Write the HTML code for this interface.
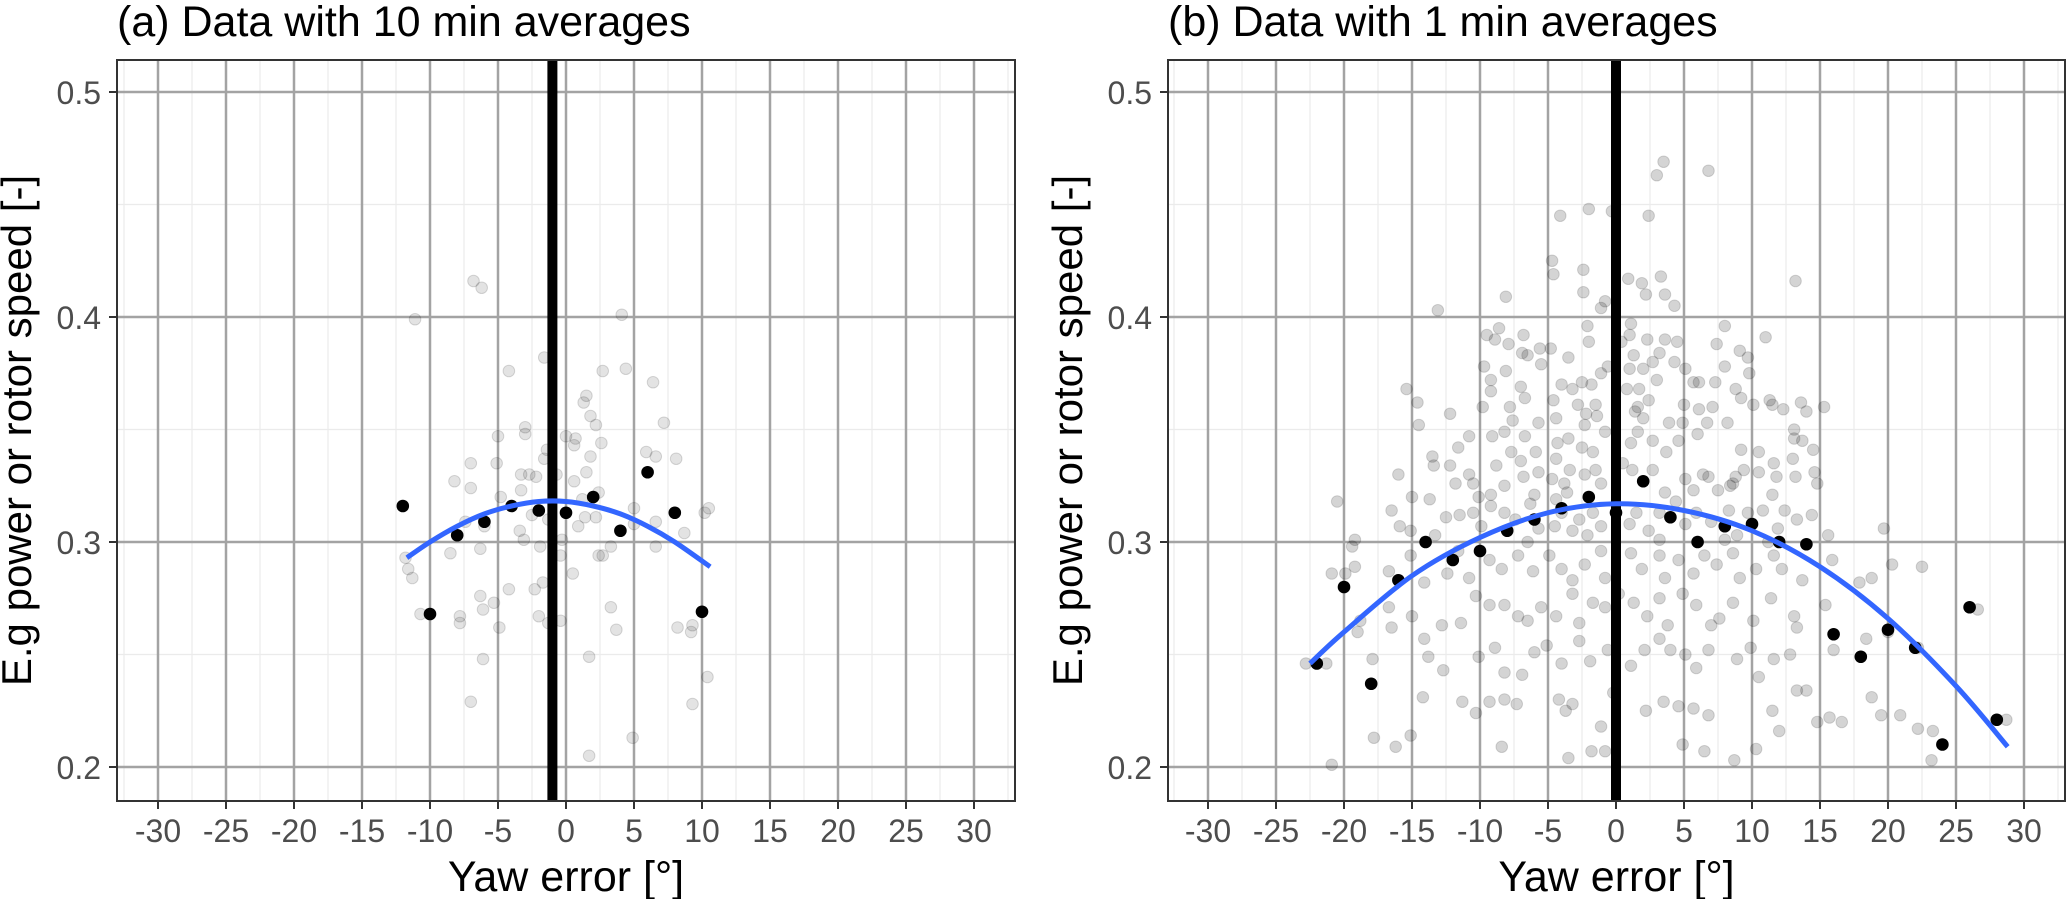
<!DOCTYPE html>
<html><head><meta charset="utf-8"><style>
html,body{margin:0;padding:0;background:#fff;}
svg{display:block;font-family:"Liberation Sans",Arial,sans-serif;}
</style></head><body>
<svg id="chart" width="2067" height="899" viewBox="0 0 2067 899" xmlns="http://www.w3.org/2000/svg"></svg>
<script>
// ---------- data ----------
const xTicks = [-30,-25,-20,-15,-10,-5,0,5,10,15,20,25,30];
const xTickLabels = ["-30","-25","-20","-15","-10","-5","0","5","10","15","20","25","30"];
const yTicks = [0.2,0.3,0.4,0.5];
const yTickLabels = ["0.2","0.3","0.4","0.5"];
const xMinor = [-32.5,-27.5,-22.5,-17.5,-12.5,-7.5,-2.5,2.5,7.5,12.5,17.5,22.5,27.5,32.5];
const yMinor = [0.25,0.35,0.45];

const aRawX = [-6.8,-6.2,-11.1,4.1,-1.6,-4.2,2.7,4.4,6.4,1.5,1.3,1.8,2.2,7.2,-3.0,-3.0,-5.0,0,0.7,2.6,-1.4,0.6,5.9,6.6,1.8,8.1,-1.6,-7.0,-5.1,-3.3,-2.7,-2.2,-0.7,1.5,-8.2,0.6,-7.0,-3.3,-4.8,2.4,1.2,5.0,10.5,10.2,-2.5,1.4,2.2,-7.4,-1.3,6.6,5.0,-6.0,0.9,-3.4,8.7,-3.1,-0.3,-1.9,-6.3,6.6,3.3,-8.5,-0.4,2.4,2.7,-11.8,-11.6,-11.3,0.5,-1.7,-4.2,-2.3,-6.3,-5.3,-6.1,3.3,-10.7,-7.8,-7.8,-2.0,-1.3,-0.4,-4.9,3.7,8.2,9.3,9.2,-6.1,1.7,10.4,-7.0,9.3,4.9,1.7];
const aRawY = [0.416,0.413,0.399,0.401,0.382,0.376,0.376,0.377,0.371,0.365,0.362,0.356,0.352,0.353,0.351,0.348,0.347,0.347,0.346,0.344,0.341,0.343,0.340,0.338,0.338,0.337,0.337,0.335,0.335,0.330,0.330,0.329,0.330,0.331,0.327,0.327,0.324,0.323,0.320,0.322,0.319,0.315,0.315,0.313,0.312,0.311,0.311,0.309,0.310,0.309,0.308,0.307,0.307,0.305,0.304,0.301,0.301,0.298,0.297,0.298,0.298,0.295,0.294,0.294,0.294,0.293,0.288,0.284,0.286,0.282,0.279,0.279,0.276,0.273,0.270,0.271,0.268,0.267,0.264,0.267,0.264,0.265,0.262,0.261,0.262,0.263,0.260,0.248,0.249,0.240,0.229,0.228,0.213,0.205];
const aBinX = [-12,-10,-8,-6,-4,-2,0,2,4,6,8,10];
const aBinY = [0.316,0.268,0.303,0.309,0.316,0.314,0.313,0.320,0.305,0.331,0.313,0.269];
const aFitX = [-11.7,-10,-8,-6,-4,-2,0,2,4,6,8,10.6];
const aFitY = [0.293,0.300,0.307,0.3125,0.316,0.318,0.318,0.316,0.3125,0.307,0.300,0.289];
const aVLine = [-1];

const bRawX = [3.5,3.0,6.8,-4.1,-2.0,-0.3,2.4,-4.7,-4.6,-2.4,-2.4,0.9,1.9,3.3,2.2,3.6,4.3,13.2,-8.1,-13.1,-1.1,-0.8,
-9.5,-8.6,-8.9,-7.9,-6.8,-6.9,-5.6,-4.8,-2.1,-2.0,1.1,1.0,2.3,3.6,4.5,3.2,4.3,8.0,7.4,11.0,9.1,9.7,-3.5,-6.5,1.3,2.7,0.4,
-9.7,-8.1,-5.5,-9.2,-7.0,-9.2,-6.7,-9.8,-7.8,-4.6,-4.0,-3.2,-2.5,-1.8,-1.1,-0.6,-2.8,-1.5,0.8,1.7,1.0,2.0,3.0,1.6,2.4,5.1,5.7,6.1,7.3,8.0,8.8,9.2,9.8,5.0,6.1,7.1,11.3,11.5,13.6,12.3,14.0,15.3,10.1,-15.4,-14.6,-14.5,-12.2,
-10.8,-11.6,-13.5,-9.1,-8.2,-7.6,-6.7,-5.7,-4.4,-3.5,-4.3,-2.2,-2.3,-1.4,-0.8,-2.5,-1.7,1.4,2.0,1.6,1.1,2.7,3.9,4.9,4.6,6.0,6.7,8.2,9.2,10.5,13.1,13.1,13.7,14.5,13.0,3.7,-7.7,-5.9,-4.4,
-16.0,-15.0,-13.4,-12.2,-11.8,-10.8,-10.5,-8.8,-8.2,-7.0,-6.8,-5.7,-6.0,-4.7,-3.8,-3.4,-2.3,-1.5,-1.1,-3.6,0.5,1.2,2.7,3.6,5.1,6.4,6.8,5.7,7.5,8.6,9.4,10.5,11.6,11.8,13.2,14.6,14.8,11.5,8.4,8.8,-10.1,-9.2,-4.4,
-20.5,-16.5,-15.9,-15.1,-13.7,-12.5,-11.5,-10.5,-9.9,-9.2,-8.2,-7.4,-6.3,-5.7,-4.5,-4.0,-3.2,-2.7,-1.7,-1.1,1.0,1.5,2.4,3.2,4.4,5.1,5.9,7.0,8.3,8.9,9.7,10.8,11.9,12.4,13.3,14.4,19.7,-19.2,-13.3,-6.5,-2.1,3.2,8.0,11.2,15.6,
-19.4,-20.9,-19.9,-19.2,-16.7,-15.1,-14.1,-12.4,-11.6,-10.8,-9.3,-8.4,-7.2,-6.1,-4.9,-4.0,-3.2,-2.3,-1.1,-0.8,1.1,1.9,3.2,3.6,4.6,5.7,6.5,7.4,8.6,9.1,10.3,11.6,12.2,13.7,15.9,17.9,18.8,20.3,22.5,-16.7,
-18.8,-19.0,-16.5,-15.0,-14.1,-12.8,-11.4,-10.3,-9.3,-8.2,-7.2,-6.5,-5.5,-4.4,-3.2,-2.7,-1.7,-0.8,0.2,1.3,2.3,3.2,3.8,4.9,5.9,7.0,7.6,8.6,10.1,11.4,13.1,13.3,15.4,26.6,
-22.8,-21.3,-17.9,-13.8,-12.7,-10.1,-8.9,-8.2,-6.9,-6.0,-5.1,-4.0,-2.7,-1.9,-0.6,1.1,2.1,3.2,4.0,5.1,5.9,6.8,8.9,9.9,10.5,11.6,12.8,16.0,18.4,20.0,22.2,
-17.8,-16.2,-15.1,-14.2,-11.3,-10.3,-9.3,-8.2,-7.3,-8.4,-4.2,-3.7,-3.2,-3.5,-1.8,-0.8,-1.1,-0.2,2.2,3.5,4.6,4.9,5.7,6.8,6.5,8.7,10.3,11.5,12.0,13.3,14.0,14.8,15.7,16.6,18.8,19.5,20.9,22.2,23.3,23.2,28.7,-20.9];
const bRawY = [0.469,0.463,0.465,0.445,0.448,0.447,0.445,0.425,0.419,0.421,0.411,0.417,0.415,0.418,0.410,0.410,0.405,0.416,0.409,0.403,0.404,0.407,
0.392,0.395,0.390,0.388,0.392,0.384,0.386,0.386,0.396,0.389,0.397,0.392,0.390,0.390,0.389,0.384,0.380,0.396,0.388,0.391,0.385,0.382,0.382,0.383,0.383,0.380,0.389,
0.378,0.376,0.379,0.372,0.369,0.367,0.364,0.360,0.360,0.363,0.370,0.368,0.371,0.370,0.375,0.378,0.361,0.361,0.368,0.368,0.377,0.377,0.372,0.360,0.363,0.377,0.371,0.371,0.371,0.378,0.368,0.364,0.375,0.361,0.359,0.360,0.363,0.361,0.362,0.359,0.358,0.360,0.361,0.368,0.362,0.352,0.357,
0.347,0.342,0.338,0.347,0.349,0.354,0.347,0.353,0.355,0.346,0.344,0.357,0.352,0.356,0.349,0.342,0.340,0.358,0.355,0.349,0.344,0.345,0.353,0.353,0.345,0.348,0.353,0.353,0.341,0.340,0.350,0.346,0.345,0.341,0.337,0.340,0.340,0.340,0.337,
0.330,0.320,0.334,0.334,0.326,0.330,0.326,0.334,0.325,0.336,0.329,0.331,0.321,0.328,0.326,0.332,0.330,0.332,0.326,0.322,0.335,0.332,0.332,0.322,0.328,0.330,0.329,0.323,0.323,0.326,0.332,0.331,0.335,0.329,0.329,0.331,0.326,0.321,0.325,0.329,0.320,0.321,0.319,
0.318,0.314,0.307,0.305,0.319,0.311,0.312,0.313,0.307,0.316,0.313,0.310,0.317,0.306,0.307,0.313,0.305,0.310,0.313,0.307,0.308,0.313,0.305,0.313,0.318,0.308,0.313,0.309,0.314,0.303,0.313,0.314,0.306,0.314,0.310,0.312,0.306,0.301,0.303,0.300,0.303,0.301,0.301,0.300,0.303,
0.298,0.286,0.286,0.289,0.287,0.294,0.282,0.286,0.296,0.284,0.292,0.288,0.294,0.287,0.294,0.288,0.283,0.290,0.296,0.284,0.295,0.288,0.294,0.284,0.292,0.286,0.294,0.290,0.295,0.284,0.288,0.294,0.288,0.283,0.292,0.282,0.284,0.290,0.289,0.271,
0.265,0.260,0.262,0.267,0.257,0.263,0.264,0.276,0.272,0.272,0.267,0.265,0.271,0.267,0.277,0.264,0.273,0.271,0.277,0.273,0.267,0.275,0.263,0.277,0.272,0.263,0.266,0.273,0.265,0.275,0.267,0.262,0.272,0.270,
0.246,0.246,0.248,0.249,0.243,0.249,0.253,0.242,0.241,0.251,0.254,0.246,0.256,0.247,0.252,0.245,0.252,0.257,0.252,0.250,0.244,0.252,0.248,0.253,0.240,0.248,0.250,0.252,0.257,0.260,0.253,
0.213,0.209,0.214,0.231,0.229,0.224,0.229,0.230,0.228,0.209,0.230,0.225,0.228,0.204,0.207,0.207,0.218,0.233,0.225,0.229,0.227,0.210,0.226,0.223,0.207,0.203,0.208,0.225,0.216,0.234,0.234,0.220,0.222,0.220,0.231,0.223,0.223,0.217,0.216,0.203,0.221,0.201];
const bBinX = [-22,-20,-18,-16,-14,-12,-10,-8,-6,-4,-2,0,2,4,6,8,10,12,14,16,18,20,22,24,26,28];
const bBinY = [0.246,0.280,0.237,0.283,0.300,0.292,0.296,0.305,0.310,0.315,0.320,0.313,0.327,0.311,0.300,0.307,0.308,0.300,0.299,0.259,0.249,0.261,0.253,0.210,0.271,0.221];
const bFitX = [-22.5,-20,-15,-10,-5,0,5,10,15,20,25,28.8];
const bFitY = [0.246,0.260,0.285,0.302,0.313,0.317,0.314,0.305,0.289,0.266,0.236,0.209];
const bVLine = [0];

// ---------- layout ----------
const NS = "http://www.w3.org/2000/svg";
const svg = document.getElementById('chart');
function mk(tag, attrs, parent){const e=document.createElementNS(NS,tag);for(const k in attrs)e.setAttribute(k,attrs[k]);(parent||svg).appendChild(e);return e;}

const panels = [
  {key:'a', title:'(a) Data with 10 min averages', left:117, right:1015, x0:566, alpha:0.11,
   rawX:aRawX, rawY:aRawY, binX:aBinX, binY:aBinY, fitX:aFitX, fitY:aFitY, vline:aVLine},
  {key:'b', title:'(b) Data with 1 min averages', left:1168, right:2065, x0:1616, alpha:0.17,
   rawX:bRawX, rawY:bRawY, binX:bBinX, binY:bBinY, fitX:bFitX, fitY:bFitY, vline:bVLine}
];
const TOP=60, BOTTOM=801;
const yScale = v => 542 - (v-0.3)*2250;

panels.forEach(p=>{
  const xs = v => p.x0 + v*13.6;
  const g = mk('g',{});
  
  
  const t = mk('text',{x:p.left,y:36,'font-size':43,fill:'#000'},g);
  t.textContent = p.title;
  
  
  mk('rect',{x:p.left,y:TOP,width:p.right-p.left,height:BOTTOM-TOP,fill:'#fff'},g);
  const grid = mk('g',{},g);
  
  
  xMinor.forEach(v=>{const X=xs(v); if(X>p.left&&X<p.right) mk('line',{x1:X,x2:X,y1:TOP,y2:BOTTOM,stroke:'#ebebeb','stroke-width':1.2},grid);});
  yMinor.forEach(v=>{const Y=yScale(v); mk('line',{x1:p.left,x2:p.right,y1:Y,y2:Y,stroke:'#ebebeb','stroke-width':1.2},grid);});
  xTicks.forEach(v=>{const X=xs(v); mk('line',{x1:X,x2:X,y1:TOP,y2:BOTTOM,stroke:'#a3a3a3','stroke-width':2.5},grid);});
  yTicks.forEach(v=>{const Y=yScale(v); mk('line',{x1:p.left,x2:p.right,y1:Y,y2:Y,stroke:'#a3a3a3','stroke-width':2.5},grid);});
  const raw = mk('g',{},g);
  
  
  p.rawX.forEach((v,i)=>{
    const c = mk('circle',{cx:xs(v),cy:yScale(p.rawY[i]),r:5.8,fill:'rgba(0,0,0,'+p.alpha+')',stroke:'rgba(0,0,0,0.14)','stroke-width':1},raw);
    
    
  });
  p.vline.forEach(v=>{
    const l = mk('line',{x1:xs(v),x2:xs(v),y1:TOP,y2:BOTTOM,stroke:'#000','stroke-width':10},g);
    
    
  });
  const bins = mk('g',{},g);
  
  
  p.binX.forEach((v,i)=>{
    const c = mk('circle',{cx:xs(v),cy:yScale(p.binY[i]),r:6.3,fill:'#000'},bins);
    
    
  });
  const pts = p.fitX.map((v,i)=>[xs(v),yScale(p.fitY[i])]);
  let d = 'M'+pts[0][0]+','+pts[0][1];
  for(let i=0;i<pts.length-1;i++){
    const p0=pts[Math.max(0,i-1)],p1=pts[i],p2=pts[i+1],p3=pts[Math.min(pts.length-1,i+2)];
    const c1=[p1[0]+(p2[0]-p0[0])/6,p1[1]+(p2[1]-p0[1])/6];
    const c2=[p2[0]-(p3[0]-p1[0])/6,p2[1]-(p3[1]-p1[1])/6];
    d+=' C'+c1[0]+','+c1[1]+' '+c2[0]+','+c2[1]+' '+p2[0]+','+p2[1];
  }
  const fit = mk('path',{d:d,fill:'none',stroke:'#3366ff','stroke-width':5,'stroke-linecap':'butt'},g);
  
  
  const b = mk('rect',{x:p.left,y:TOP,width:p.right-p.left,height:BOTTOM-TOP,fill:'none',stroke:'#333','stroke-width':2},g);
  
  
  const xa = mk('g',{},g);
  
  
  xTicks.forEach((v,i)=>{
    const X=xs(v);
    mk('line',{x1:X,x2:X,y1:BOTTOM,y2:BOTTOM+8,stroke:'#333','stroke-width':2},xa);
    const tl = mk('text',{x:X,y:842,'font-size':32,fill:'#4d4d4d','text-anchor':'middle'},xa);
    tl.textContent = xTickLabels[i];
    
    
  });
  const ya = mk('g',{},g);
  
  
  yTicks.forEach((v,i)=>{
    const Y=yScale(v);
    mk('line',{x1:p.left-8,x2:p.left,y1:Y,y2:Y,stroke:'#333','stroke-width':2},ya);
    const tl = mk('text',{x:p.left-16,y:Y+12,'font-size':32,fill:'#4d4d4d','text-anchor':'end'},ya);
    tl.textContent = yTickLabels[i];
    
    
  });
  const xt = mk('text',{x:(p.left+p.right)/2,y:891,'font-size':43,fill:'#000','text-anchor':'middle'},g);
  xt.textContent = 'Yaw error [°]';
  
  
  const cy=(TOP+BOTTOM)/2, cx=p.left-86;
  const yt = mk('text',{x:cx,y:cy,'font-size':42,fill:'#000','text-anchor':'middle',transform:'rotate(-90 '+cx+' '+cy+')'},g);
  yt.textContent = 'E.g power or rotor speed [-]';
  
  
});
</script>
</body></html>
